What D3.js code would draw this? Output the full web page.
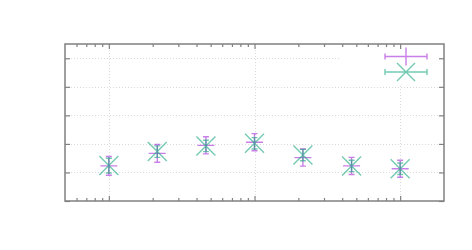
<!DOCTYPE html>
<html><head><meta charset="utf-8">
<script src="https://cdn.jsdelivr.net/npm/d3@7"></script>
<style>html,body{margin:0;padding:0;background:#fff;}</style>
</head><body>
<script>
const xValues = [10, 21.5, 46.4, 100, 215, 464, 1000];
const series1Y = [1.23, 1.67, 1.95, 2.06, 1.52, 1.23, 1.13];
const series1Err = [0.33, 0.31, 0.3, 0.3, 0.3, 0.3, 0.3];
const series2Y = [1.24, 1.73, 1.93, 2.02, 1.61, 1.23, 1.13];
const series2Err = [0.26, 0.2, 0.2, 0.2, 0.2, 0.2, 0.2];
const xMajorTicks = [10, 100, 1000];
const xMinorTicks = [6,7,8,9,20,30,40,50,60,70,80,90,200,300,400,500,600,700,800,900];
const yTicks = [0, 1, 2, 3, 4, 5];

const W = 472, H = 250;
const L = 65, R = 444, T = 44, B = 201;
const c1 = "#9400d3", c2 = "#009e73";

const svg = d3.select("body").append("svg").attr("width", W).attr("height", H)
  .style("background", "#fff");

const x = d3.scaleLog().domain([5, 2000]).range([L, R]);
const y = d3.scaleLinear().domain([0, 5.5]).range([B, T]);

// grid
const grid = svg.append("g").attr("stroke", "#dadada").attr("stroke-width", 1).attr("stroke-dasharray", "1,2");
grid.selectAll(".gy").data(yTicks.filter(v => v > 0)).join("line")
  .attr("x1", L).attr("x2", R).attr("y1", d => Math.round(y(d)) + 0.5).attr("y2", d => Math.round(y(d)) + 0.5);
grid.selectAll(".gx").data(xMajorTicks).join("line")
  .attr("y1", T).attr("y2", B).attr("x1", d => Math.round(x(d)) + 0.5).attr("x2", d => Math.round(x(d)) + 0.5);

// key background
svg.append("rect").attr("x", 340).attr("y", T + 1).attr("width", R - 341).attr("height", 40).attr("fill", "#fff");

// axes (ticks only)
function styleAxis(g) {
  g.select(".domain").remove();
  g.selectAll("line").attr("stroke", "#808080").attr("stroke-width", 1.2);
  g.selectAll("text").remove();
}
svg.append("g").attr("transform", `translate(0,${B})`).call(d3.axisBottom(x).tickValues(xMajorTicks).tickSize(-5).tickFormat("")).call(styleAxis);
svg.append("g").attr("transform", `translate(0,${B})`).call(d3.axisBottom(x).tickValues(xMinorTicks).tickSize(-3).tickFormat("")).call(styleAxis);
svg.append("g").attr("transform", `translate(0,${T})`).call(d3.axisTop(x).tickValues(xMajorTicks).tickSize(-5).tickFormat("")).call(styleAxis);
svg.append("g").attr("transform", `translate(0,${T})`).call(d3.axisTop(x).tickValues(xMinorTicks).tickSize(-3).tickFormat("")).call(styleAxis);
svg.append("g").attr("transform", `translate(${L},0)`).call(d3.axisLeft(y).tickValues(yTicks).tickSize(-5).tickFormat("")).call(styleAxis);
svg.append("g").attr("transform", `translate(${R},0)`).call(d3.axisRight(y).tickValues(yTicks).tickSize(-5).tickFormat("")).call(styleAxis);

// border
svg.append("rect").attr("x", L).attr("y", T).attr("width", R - L).attr("height", B - T)
  .attr("fill", "none").attr("stroke", "#808080").attr("stroke-width", 1.5);

const cap = 3, ps = 8.5;
function drawSeries(ys, errs, color, op, marker) {
  const g = svg.append("g").attr("stroke", color).attr("stroke-opacity", op).attr("stroke-width", 1.4).attr("fill", "none");
  xValues.forEach((xv, i) => {
    const cx = x(xv), cy = y(ys[i]), y0 = y(ys[i] - errs[i]), y1 = y(ys[i] + errs[i]);
    let p = `M${cx},${y0}V${y1}M${cx - cap},${y0}H${cx + cap}M${cx - cap},${y1}H${cx + cap}`;
    if (marker === "plus") p += `M${cx - ps},${cy}H${cx + ps}`;
    else p += `M${cx - 9.5},${cy - 9.5}L${cx + 9.5},${cy + 9.5}M${cx - 9.5},${cy + 9.5}L${cx + 9.5},${cy - 9.5}`;
    g.append("path").attr("d", p);
  });
}
drawSeries(series1Y, series1Err, c1, 0.5, "plus");
drawSeries(series2Y, series2Err, c2, 0.55, "cross");

// key samples
function keySample(ky, color, op, marker) {
  const g = svg.append("g").attr("stroke", color).attr("stroke-opacity", op).attr("stroke-width", 1.4).attr("fill", "none");
  const xa = 385, xb = 427, cx = 406;
  let p = `M${xa},${ky}H${xb}M${xa},${ky - 3}V${ky + 3}M${xb},${ky - 3}V${ky + 3}`;
  if (marker === "plus") p += `M${cx},${ky - 9}V${ky + 9}M${cx - 9},${ky}H${cx + 9}`;
  else p += `M${cx - 9},${ky - 9}L${cx + 9},${ky + 9}M${cx - 9},${ky + 9}L${cx + 9},${ky - 9}`;
  g.append("path").attr("d", p);
}
keySample(56.5, c1, 0.5, "plus");
keySample(72, c2, 0.55, "cross");
</script>
</body></html>
